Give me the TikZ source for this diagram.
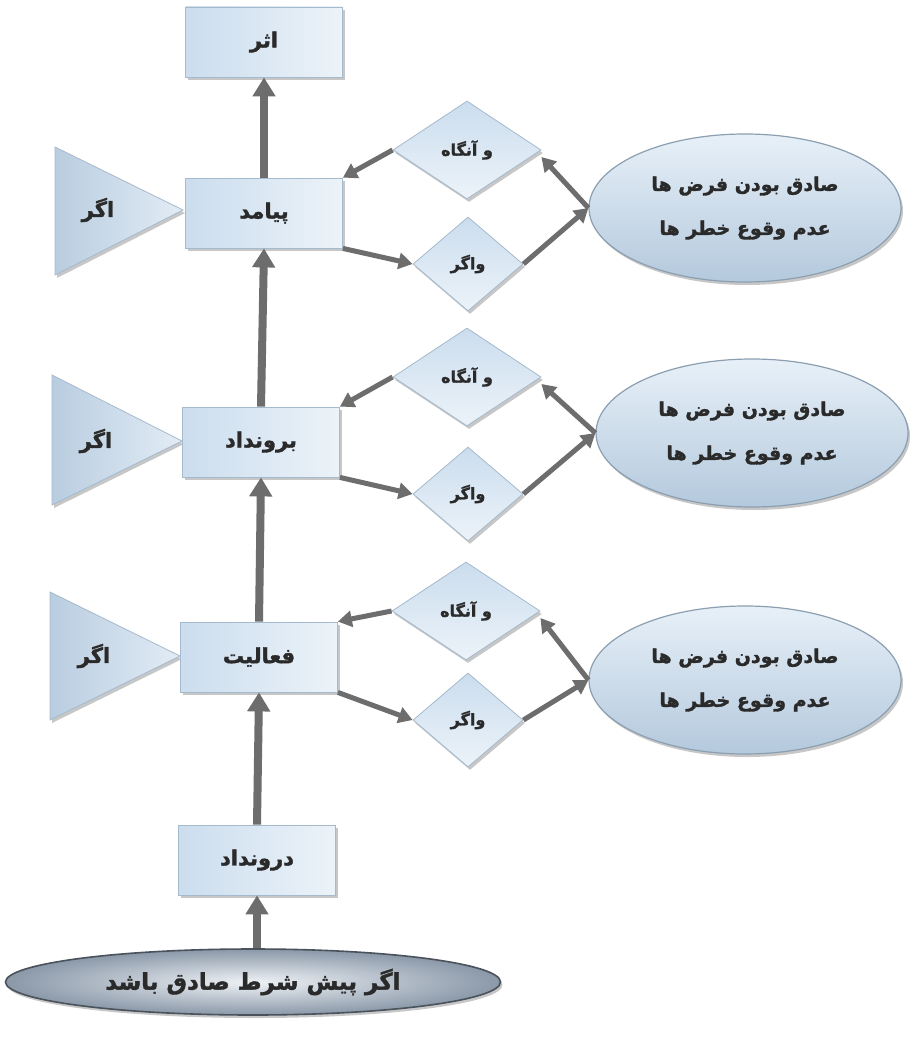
\documentclass[tikz,border=0pt]{standalone}
\usepackage{fontspec}
\TeXXeTstate=1
\newfontfamily\arabicfont[Script=Arabic,BoldFeatures={FakeBold=1.6}]{DejaVu Sans}
\usetikzlibrary{shapes.geometric,arrows.meta,shadows,calc}
\definecolor{arr}{HTML}{6D6D6D}
\definecolor{txt}{HTML}{2A2A2A}
\definecolor{boxA}{HTML}{CBDDEE}
\definecolor{boxB}{HTML}{ECF3F9}
\definecolor{boxedge}{HTML}{A5BACD}
\definecolor{elA}{HTML}{E7F0F8}
\definecolor{elB}{HTML}{B4C9DD}
\definecolor{eledge}{HTML}{8C9FB1}
\definecolor{baseA}{HTML}{EEF2F6}
\definecolor{baseB}{HTML}{8A98A8}
\definecolor{baseedge}{HTML}{4A525C}
\definecolor{triA}{HTML}{B9CDE0}
\definecolor{triB}{HTML}{E2ECF5}
\newcommand\pers[1]{{\arabicfont\bfseries\beginR #1\endR}}
\begin{document}
\begin{tikzpicture}[x=1pt,y=-1pt,
  shd/.style={drop shadow={shadow xshift=2pt,shadow yshift=-3pt,fill=black,opacity=0.22}},
  box/.style={rectangle,minimum width=157,minimum height=70,inner sep=0pt,
    draw=boxedge,line width=0.8pt,left color=boxA,right color=boxB,shd,
    text=txt,font=\fontsize{21}{24}\selectfont},
  dia/.style={diamond,inner sep=0pt,minimum width=148,minimum height=98,
    draw=boxedge,line width=0.8pt,top color=boxA,bottom color=boxB,shd,
    text=txt,font=\fontsize{16}{18}\selectfont},
  diasmall/.style={dia,minimum width=110,minimum height=94},
  oval/.style={ellipse,minimum width=312,minimum height=148,inner sep=0pt,
    draw=eledge,line width=1.2pt,top color=elA,bottom color=elB,shd,
    text=txt,align=center,font=\fontsize{19}{44}\selectfont},
  baseoval/.style={ellipse,minimum width=495,minimum height=66,inner sep=0pt,
    draw=baseedge,line width=1.6pt,inner color=baseA,outer color=baseB,shd,
    text=txt,font=\fontsize{23}{26}\selectfont},
  tri/.style={draw=boxedge,line width=0.8pt,left color=triA,right color=triB,shd},
  trilabel/.style={text=txt,font=\fontsize{21}{24}\selectfont},
  bigarrow/.style={draw=arr,line width=8pt,-{Triangle[width=22pt,length=19pt]}},
  smallarrow/.style={draw=arr,line width=5pt,-{Triangle[width=16pt,length=14pt]}}
]
\useasboundingbox (0,0) rectangle (918,1046);
\fill[white] (0,0) rectangle (918,1046);

% triangles
\path[tri] (55,147) -- (55,275) -- (183,210) -- cycle;
\path[tri] (52,375) -- (52,505) -- (182,441) -- cycle;
\path[tri] (50,592) -- (50,720) -- (180,656) -- cycle;
\node[trilabel] (if1) at (98,210) {\pers{اگر}};
\node[trilabel] (if2) at (96,441) {\pers{اگر}};
\node[trilabel] (if3) at (94,656) {\pers{اگر}};

% boxes
\node[box] (athar) at (264,42) {\pers{اثر}};
\node[box] (payamad) at (264,213) {\pers{پیامد}};
\node[box] (borondad) at (261,442) {\pers{برونداد}};
\node[box] (faaliat) at (259,657) {\pers{فعالیت}};
\node[box] (darondad) at (257,860) {\pers{درونداد}};

% diamonds
\node[dia] (aa1) at (467,150) {\pers{و آنگاه}};
\node[diasmall] (va1) at (468,264) {\pers{واگر}};
\node[dia] (aa2) at (467,377) {\pers{و آنگاه}};
\node[diasmall] (va2) at (468,494) {\pers{واگر}};
\node[dia] (aa3) at (466,611) {\pers{و آنگاه}};
\node[diasmall] (va3) at (468,720) {\pers{واگر}};

% ellipses
\node[oval] (el1) at (745,208) {\pers{صادق بودن فرض ها}\\\pers{عدم وقوع خطر ها}};
\node[oval] (el2) at (752,433) {\pers{صادق بودن فرض ها}\\\pers{عدم وقوع خطر ها}};
\node[oval] (el3) at (745,680) {\pers{صادق بودن فرض ها}\\\pers{عدم وقوع خطر ها}};

\node[baseoval] (base) at (253,982) {\pers{اگر پیش شرط صادق باشد}};

% vertical arrows
\draw[bigarrow] (darondad.south |- base.north) -- (darondad.south);
\draw[bigarrow] (darondad.north) -- (faaliat.south);
\draw[bigarrow] (faaliat.north) -- (borondad.south);
\draw[bigarrow] (borondad.north) -- (payamad.south);
\draw[bigarrow] (payamad.north) -- (athar.south);

% diagonal arrows
\foreach \a/\v/\e/\b in {aa1/va1/el1/payamad, aa2/va2/el2/borondad, aa3/va3/el3/faaliat}{
  \draw[smallarrow] (\a.west) -- (\b.north east);
  \draw[smallarrow] (\b.south east) -- (\v.west);
  \draw[smallarrow] (\v.east) -- (\e.west);
  \draw[smallarrow] (\e.west) -- ($(\a.east)+(0,7)$);
}
\end{tikzpicture}
\end{document}
